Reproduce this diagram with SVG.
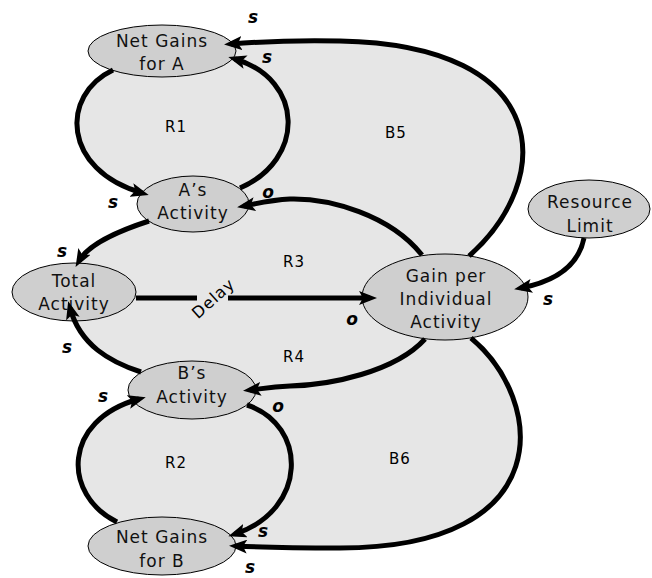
<svg xmlns="http://www.w3.org/2000/svg" width="652" height="578" viewBox="0 0 652 578">
<style>
.node ellipse{fill:#cfcfcf;stroke:#000;stroke-width:1}
.node text{font-family:"DejaVu Sans",sans-serif;font-size:17px;letter-spacing:1px;text-anchor:middle;fill:#111}
.conn path{fill:none;stroke:#000;stroke-width:5}
.pol{font-family:"DejaVu Sans",sans-serif;font-size:17px;font-weight:bold;font-style:italic;text-anchor:middle;fill:#000}
.loop{font-family:"DejaVu Sans",sans-serif;font-size:15px;letter-spacing:1px;text-anchor:middle;fill:#000}
</style>
<defs>
<marker id="ah" viewBox="0 0 18 14" refX="11" refY="7" markerWidth="18" markerHeight="14" markerUnits="userSpaceOnUse" orient="auto">
<path d="M0,0 L18,7 L0,14 L4,7 Z" fill="#000"/>
</marker>
</defs>
<rect width="652" height="578" fill="#fff"/>
<path id="region" fill="#e6e6e6" d="M113,70 C60,95 62,170 142,193 L149,221 C115,232 88,245 79,261 L70,308 C80,345 110,362 141,372 L139,399 C62,420 62,495 117,522 L236,546 C255,547 290,548 340,548 C560,548 545,400 471,338 L469,256 C555,180 555,45 340,41 C290,40 255,42 231,44 Z"/>
<g id="nodes">
<g id="netGainsA" class="node"><ellipse cx="162" cy="51" rx="74" ry="26"/><text x="162" y="47">Net Gains</text><text x="162" y="70">for A</text></g>
<g id="aActivity" class="node"><ellipse cx="193" cy="204" rx="56" ry="28"/><text x="193" y="196">A’s</text><text x="193" y="219">Activity</text></g>
<g id="totalActivity" class="node"><ellipse cx="74" cy="292" rx="62" ry="29"/><text x="74" y="287">Total</text><text x="74" y="310">Activity</text></g>
<g id="gainPer" class="node"><ellipse cx="445" cy="297" rx="83" ry="43"/><text x="446" y="282">Gain per</text><text x="446" y="305">Individual</text><text x="446" y="328">Activity</text></g>
<g id="resourceLimit" class="node"><ellipse cx="589" cy="209" rx="61" ry="29"/><text x="590" y="208">Resource</text><text x="590" y="232">Limit</text></g>
<g id="bActivity" class="node"><ellipse cx="192" cy="390" rx="64" ry="29"/><text x="192" y="379">B’s</text><text x="192" y="403">Activity</text></g>
<g id="netGainsB" class="node"><ellipse cx="162" cy="546" rx="74" ry="29"/><text x="162" y="543">Net Gains</text><text x="162" y="567">for B</text></g>
</g>
<g id="connectors" class="conn">
<path marker-end="url(#ah)" d="M113,70 C60,95 62,170 142,193"/>
<path marker-end="url(#ah)" d="M240,188 C305,160 305,80 235,59"/>
<path marker-end="url(#ah)" d="M469,256 C555,180 555,45 340,41 C290,40 255,42 231,44"/>
<path marker-end="url(#ah)" d="M422,255 C390,215 330,198 290,199 C270,200 255,204 244,206"/>
<path marker-end="url(#ah)" d="M149,221 C115,232 88,245 79,261"/>
<path marker-end="url(#ah)" d="M136,298 H197 M228,298 H370"/>
<path marker-end="url(#ah)" d="M425,339 C395,372 330,385 290,386 C270,387 260,389 250,390"/>
<path marker-end="url(#ah)" d="M141,372 C110,362 80,345 70,308"/>
<path marker-end="url(#ah)" d="M117,522 C62,495 62,420 139,399"/>
<path marker-end="url(#ah)" d="M247,405 C308,425 308,510 235,534"/>
<path marker-end="url(#ah)" d="M471,338 C545,400 560,548 340,548 C290,548 255,547 236,546"/>
<path marker-end="url(#ah)" d="M584,238 C578,268 552,282 521,288"/>
</g>
<g id="labels">
<text class="pol" x="253" y="23">s</text>
<text class="pol" x="267" y="63">s</text>
<text class="pol" x="113" y="208">s</text>
<text class="pol" x="268" y="198">o</text>
<text class="pol" x="62" y="257">s</text>
<text class="pol" x="67" y="353">s</text>
<text class="pol" x="352" y="325">o</text>
<text class="pol" x="548" y="305">s</text>
<text class="pol" x="103" y="402">s</text>
<text class="pol" x="278" y="412">o</text>
<text class="pol" x="263" y="537">s</text>
<text class="pol" x="250" y="573">s</text>
<text class="loop" x="176" y="132">R1</text>
<text class="loop" x="396" y="138">B5</text>
<text class="loop" x="294" y="267">R3</text>
<text class="loop" x="294" y="362">R4</text>
<text class="loop" x="176" y="468">R2</text>
<text class="loop" x="400" y="464">B6</text>
<text class="loop" transform="translate(213,298) rotate(-42)" x="0" y="6" style="font-size:16px">Delay</text>
</g>
</svg>
